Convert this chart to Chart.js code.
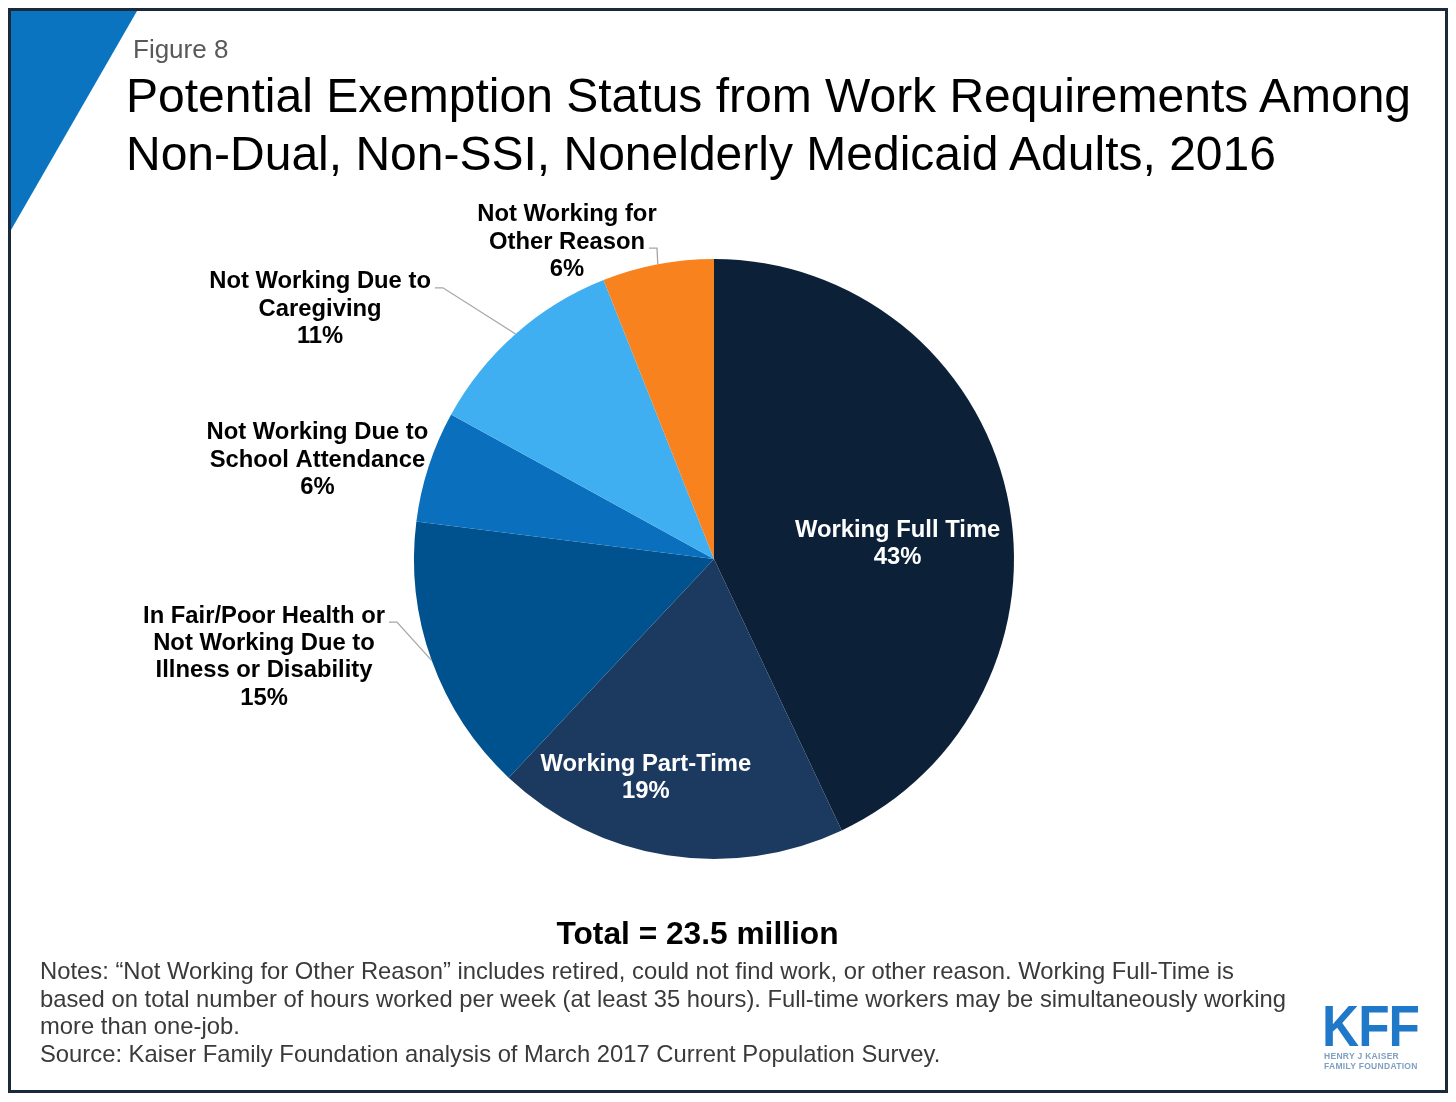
<!DOCTYPE html>
<html>
<head>
<meta charset="utf-8">
<script src="https://cdn.jsdelivr.net/npm/chart.js@4.4.0/dist/chart.umd.min.js"></script>
<style>
body { margin: 0; background: #fff; font-family: "Liberation Sans", Arial, sans-serif; }
#page { position: relative; width: 1456px; height: 1102px; overflow: hidden; background: #fff; }
#frame { position: absolute; left: 8px; top: 8px; width: 1434px; height: 1079px; border: 3px solid #1b2a3a; }
#tri { position: absolute; left: 0; top: 0; }
#chart { position: absolute; left: 0; top: 0; }
.txt { position: absolute; white-space: nowrap; }
#fig { left: 133px; top: 36px; font-size: 26px; line-height: 26px; color: #595959; }
#title { left: 126px; top: 67px; font-size: 48px; line-height: 57.5px; color: #000; }
#total { left: 0; width: 1395px; text-align: center; top: 917px; font-size: 31.7px; line-height: 32px; font-weight: bold; color: #000; }
#notes { left: 40px; top: 957px; font-size: 23.8px; line-height: 27.6px; color: #3a3a3a; }
#logo { left: 1322px; top: 998px; font-size: 57px; line-height: 57px; font-weight: bold; color: #1f78c8; transform: scaleX(0.9); transform-origin: left top; letter-spacing: -1px; }
#logo2 { left: 1324px; top: 1052px; font-size: 8.5px; line-height: 9.5px; font-weight: bold; color: #7f9fc0; letter-spacing: 0.3px; }
</style>
</head>
<body>
<div id="page">
  <svg id="tri" width="1456" height="1102"><polygon points="11,11 137,11 11,230" fill="#0b74c0"/></svg>
  <canvas id="chart" width="1456" height="1102"></canvas>
  <div id="frame"></div>
  <div class="txt" id="fig">Figure 8</div>
  <div class="txt" id="title">Potential Exemption Status from Work Requirements Among<br>Non-Dual, Non-SSI, Nonelderly Medicaid Adults, 2016</div>
  <div class="txt" id="total">Total = 23.5 million</div>
  <div class="txt" id="notes">Notes: “Not Working for Other Reason” includes retired, could not find work, or other reason. Working Full-Time is<br>based on total number of hours worked per week (at least 35 hours). Full-time workers may be simultaneously working<br>more than one-job.<br>Source: Kaiser Family Foundation analysis of March 2017 Current Population Survey.</div>
  <div class="txt" id="logo">KFF</div>
  <div class="txt" id="logo2">HENRY J KAISER<br>FAMILY FOUNDATION</div>
</div>
<script>
// data
const categories = [
    ['Working Full Time'],
    ['Working Part-Time'],
    ['In Fair/Poor Health or', 'Not Working Due to', 'Illness or Disability'],
    ['Not Working Due to', 'School Attendance'],
    ['Not Working Due to', 'Caregiving'],
    ['Not Working for', 'Other Reason']
];
const values = [43, 19, 15, 6, 11, 6];

const sliceColors = ['#0c2038', '#1c3a5f', '#00528f', '#0a70be', '#40aff2', '#f7821e'];
const labelColors = ['#fff', '#fff', '#000', '#000', '#000', '#000'];
// label block centre, relative to pie centre in radius units
const labelPos = [[0.612, -0.051], [-0.227, 0.729], [-1.5, 0.327], [-1.322, -0.33], [-1.313, -0.833], [-0.49, -1.056]];
// which text line the leader line leaves from (null = no leader)
const leaderLine = [null, null, 0, null, 0, 1];

const lineH = 27.3;

const labelPlugin = {
    id: 'sliceLabels',
    afterDatasetsDraw(chart) {
        const ctx = chart.ctx;
        const arcs = chart.getDatasetMeta(0).data;
        ctx.save();
        ctx.font = 'bold 23.8px "Liberation Sans", Arial, sans-serif';
        ctx.textAlign = 'center';
        ctx.textBaseline = 'middle';
        for (let i = 0; i < arcs.length; i++) {
            const arc = arcs[i];
            const r = arc.outerRadius;
            const lines = categories[i].concat([values[i] + '%']);
            const cx = arc.x + labelPos[i][0] * r;
            const cy = arc.y + labelPos[i][1] * r;
            const y0 = cy - (lines.length - 1) * lineH / 2;
            ctx.fillStyle = labelColors[i];
            for (let j = 0; j < lines.length; j++) {
                ctx.fillText(lines[j], cx, y0 + j * lineH);
            }
            if (leaderLine[i] !== null) {
                const k = leaderLine[i];
                const w = ctx.measureText(lines[k]).width;
                const sx = cx + w / 2 + 4;
                const sy = y0 + k * lineH + 6;
                const mid = (arc.startAngle + arc.endAngle) / 2;
                const ex = arc.x + Math.cos(mid) * r;
                const ey = arc.y + Math.sin(mid) * r;
                ctx.strokeStyle = '#a6a6a6';
                ctx.lineWidth = 1.3;
                ctx.beginPath();
                ctx.moveTo(sx, sy);
                ctx.lineTo(sx + 8, sy);
                ctx.lineTo(ex, ey);
                ctx.stroke();
            }
        }
        ctx.restore();
    }
};

new Chart(document.getElementById('chart'), {
    type: 'pie',
    data: {
        labels: categories.map(c => c.join(' ')),
        datasets: [{
            data: values,
            backgroundColor: sliceColors,
            borderWidth: 0
        }]
    },
    options: {
        responsive: false,
        animation: false,
        devicePixelRatio: 1,
        layout: { padding: { left: 414, top: 259, right: 442, bottom: 243 } },
        plugins: {
            legend: { display: false },
            tooltip: { enabled: false }
        }
    },
    plugins: [labelPlugin]
});
</script>
</body>
</html>
